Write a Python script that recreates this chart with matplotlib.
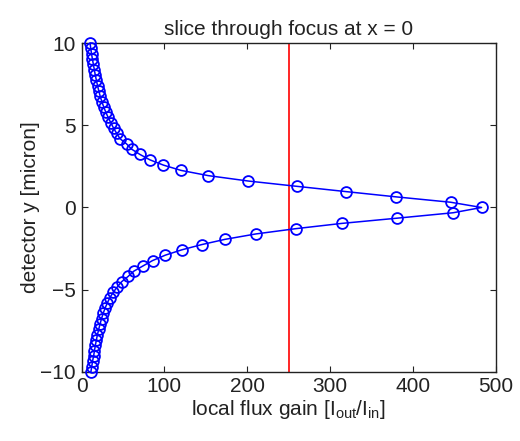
import numpy as np
import matplotlib
matplotlib.use("Agg")
import matplotlib.pyplot as plt

plt.rcParams['font.family'] = ['Liberation Sans', 'DejaVu Sans']
plt.rcParams['mathtext.fontset'] = 'custom'
plt.rcParams['mathtext.rm'] = 'Liberation Sans'
plt.rcParams['mathtext.it'] = 'Liberation Sans:italic'

# detector y positions (micron), from the focus outwards
y_pos = [0.00, 0.32, 0.65, 0.97, 1.29, 1.61, 1.94, 2.26, 2.58, 2.90, 3.23,
         3.55, 3.87, 4.19, 4.52, 4.84, 5.16, 5.48, 5.81, 6.13, 6.45, 6.77,
         7.10, 7.42, 7.74, 8.06, 8.39, 8.71, 9.03, 9.35, 9.68, 10.00]

# local flux gain on the y > 0 side (first entry is y = 0)
gain_upper = [483.1, 445.7, 379.2, 318.8, 259.7, 201.4, 152.9, 119.9, 98.8,
              82.5, 70.4, 60.4, 54.3, 46.3, 42.2, 38.5, 35.2, 32.0, 29.1,
              26.6, 24.4, 22.4, 20.7, 19.2, 17.8, 16.5, 15.3, 14.2, 13.0,
              12.0, 11.0, 10.2]

# local flux gain on the y < 0 side (starting at y = -0.32)
gain_lower = [448.8, 381.2, 314.0, 258.5, 210.5, 173.1, 144.9, 120.8, 101.2,
              85.7, 74.4, 63.2, 56.3, 48.3, 43.0, 38.2, 34.2, 31.0, 28.3,
              26.0, 24.0, 22.2, 20.6, 19.1, 17.8, 16.6, 15.5, 14.5, 13.2,
              12.2, 11.2]

red_line_x = 250

# one curve from y = -10 up to y = +10
y_all = [-v for v in y_pos[1:][::-1]] + y_pos
gain_all = gain_lower[::-1] + gain_upper

fig = plt.figure(figsize=(5.2, 4.41), dpi=100)
ax = fig.add_axes([0.157, 0.157, 0.796, 0.745])

ax.plot(gain_all, y_all, color='#0000FF', linewidth=1.1, marker='o',
        markersize=7.8, markerfacecolor='none', markeredgecolor='#0000FF',
        markeredgewidth=1.3, clip_on=False, zorder=3)
ax.axvline(red_line_x, color='#FF0000', linewidth=1.2, zorder=2)

ax.set_xlim(0, 500)
ax.set_ylim(-10, 10)
ax.set_xticks([0, 100, 200, 300, 400, 500])
ax.set_yticks([-10, -5, 0, 5, 10])

txt = '#222222'
ax.tick_params(direction='in', length=4, width=0.8, top=True, right=True,
               labelsize=15, colors=txt, pad=4)
for s in ax.spines.values():
    s.set_color('#222222')
    s.set_linewidth(1.0)

ax.set_title('slice through focus at x = 0', fontsize=15, color=txt, pad=6)
ax.set_xlabel(r'local flux gain [I$_{\rm out}$/I$_{\rm in}$]', fontsize=15,
              color=txt, labelpad=1)
ax.set_ylabel('detector y [micron]', fontsize=15, color=txt, labelpad=0)

fig.savefig('out.png', dpi=100)
